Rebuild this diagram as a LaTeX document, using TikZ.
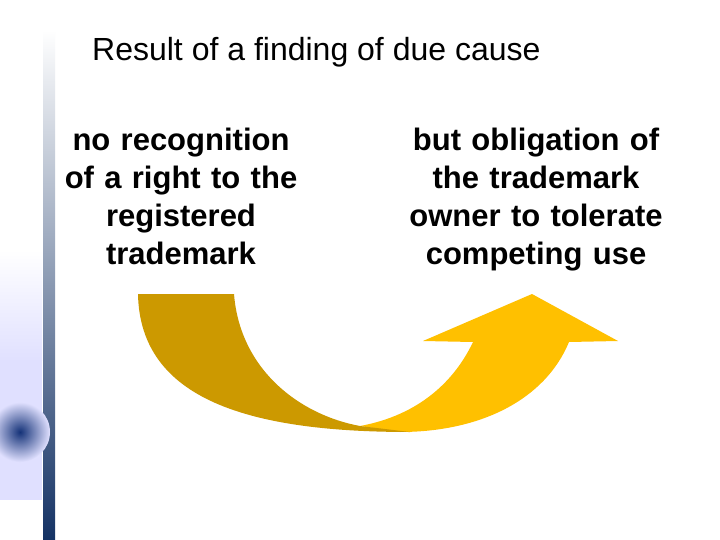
\documentclass[tikz,border=0pt]{standalone}
\usepackage{fontspec}
\setmainfont{Liberation Sans}
\begin{document}
\begin{tikzpicture}[x=1pt,y=-1pt,
  body/.style={font=\fontsize{31}{38}\selectfont\bfseries,align=center,text width=300pt,anchor=north,inner sep=0pt},
  title/.style={font=\fontsize{32}{36}\selectfont,anchor=west,inner sep=0pt}]
\useasboundingbox (0,0) rectangle (720,540);
\fill[white] (0,0) rectangle (720,540);
% left decoration
\shade[top color=white,bottom color={rgb,255:red,20;green,50;blue,100}] (43,30) rectangle (55,540);
\shade[top color=white,bottom color=blue!12] (0,250) rectangle (42,360);
\fill[blue!12] (0,360) rectangle (42,500);
\shade[inner color={rgb,255:red,20;green,50;blue,120},outer color=blue!12] (20,432) circle (30);
% arrows
\fill[fill={rgb,255:red,255;green,192;blue,0}] (360,426) .. controls (420,415) and (455,380) .. (473,342) -- (423,341) -- (532,294) -- (618,341) -- (569,342) .. controls (545,400) and (480,432) .. (400,432) -- cycle;
\fill[fill={rgb,255:red,204;green,153;blue,0}] (138,294) -- (234,294) .. controls (240,370) and (300,415) .. (360,426) -- (410,432) .. controls (250,432) and (140,400) .. (138,294) -- cycle;
\node[title] (t) at (92,52) {Result of a finding of due cause};
\node[body] (l) at (181,128) {no recognition\\of a right to the\\registered\\trademark};
\node[body] (r) at (536,128) {but obligation of\\the trademark\\owner to tolerate\\competing use};
\end{tikzpicture}
\end{document}
